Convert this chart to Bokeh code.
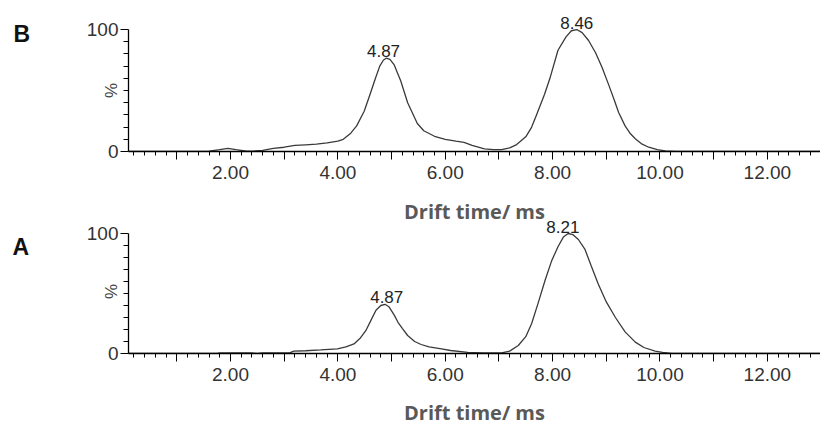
import math
from bokeh.plotting import figure
from bokeh.layouts import column, row
from bokeh.models import FixedTicker, ColumnDataSource, Range1d
from bokeh.core.properties import value
from bokeh.embed import file_html
from bokeh.resources import INLINE

# ---- data ----
b_x = [0.1, 1.0, 1.6, 1.8, 1.95, 2.1, 2.3, 2.45, 2.6, 2.8, 3.0, 3.2, 3.4, 3.6, 3.8, 4.0,
       4.1, 4.24, 4.35, 4.49, 4.6, 4.7, 4.78, 4.85, 4.9, 4.97, 5.05, 5.17, 5.3, 5.48, 5.6,
       5.8, 6.0, 6.2, 6.35, 6.5, 6.73, 6.9, 7.05, 7.2, 7.33, 7.5, 7.61, 7.7, 7.85, 7.95,
       8.1, 8.25, 8.35, 8.45, 8.55, 8.67, 8.8, 8.92, 9.05, 9.15, 9.23, 9.35, 9.45, 9.54,
       9.65, 9.79, 9.95, 10.1, 10.3, 12.99]
b_y = [0, 0, 0.3, 1.5, 2.5, 1.5, 0.3, 0.5, 1.0, 2.5, 3.5, 5.0, 5.5, 6.0, 7.0, 8.5,
       10, 15, 21, 33, 47, 60, 70, 75, 76.5, 75.5, 71, 58, 40, 23, 17,
       12.5, 10, 8.5, 7.5, 5.0, 2.2, 1.6, 1.6, 3.0, 5.7, 12, 20, 30, 47, 60,
       83, 94, 99, 100, 97.5, 91, 81, 69, 54, 42, 32, 21, 14.5, 10.4,
       6.5, 3.5, 1.5, 0.5, 0, 0]

a_x = [0.1, 1.75, 1.8, 2.4, 2.5, 2.6, 3.1, 3.18, 3.4, 3.68, 3.99, 4.15, 4.3, 4.42, 4.52,
       4.62, 4.71, 4.8, 4.88, 4.95, 5.05, 5.12, 5.2, 5.3, 5.43, 5.55, 5.7, 5.93, 6.1, 6.42,
       6.7, 7.05, 7.2, 7.36, 7.5, 7.61, 7.73, 7.86, 7.98, 8.1, 8.2, 8.29, 8.38, 8.48, 8.6,
       8.72, 8.85, 9.0, 9.17, 9.35, 9.54, 9.7, 9.91, 10.05, 10.22, 12.99]
a_y = [0, 0, 0.5, 0.5, 0, 0.5, 0.5, 1.9, 2.3, 3.0, 3.9, 5.5, 8, 13, 19,
       28, 36, 40, 41, 39, 32, 26, 21, 15, 10, 7.5, 5.5, 3.9, 2.5, 1.0,
       0.5, 0.5, 2.0, 6.7, 14, 25, 42, 61, 77, 89, 97, 100, 99, 95, 87,
       73, 58, 43, 30, 18, 9.5, 5.0, 2.0, 1.0, 0, 0]

b_peak_x = [4.85, 8.45]
b_peak_y = [76.5, 100]
b_peak_labels = ["4.87", "8.46"]

a_peak_x = [4.91, 8.19]
a_peak_y = [41, 100]
a_peak_labels = ["4.87", "8.21"]

panel_letters = ["B", "A"]
y_title = "%"

x_major = list(range(1, 13))
x_tick_labels = {t: (f"{t:.2f}" if t % 2 == 0 else "") for t in x_major}
x_minor = [round(i * 0.2, 1) for i in range(1, 65)]
y_major = [0, 100]
y_minor = list(range(10, 100, 10))

TICK_FONT = "Liberation Sans"
TOTAL_H = 429
GUTTER_W = 128   # left strip with letters and "%" (main plots overlap its right part)
AXIS_BORDER = 68


def panel(xs, ys, px, py, plabels, height, y_end, bottom, label_standoff):
    p = figure(width=820 - GUTTER_W + AXIS_BORDER, height=height, output_backend="svg",
               toolbar_location=None,
               x_range=Range1d(0.1, 12.99), y_range=Range1d(0, y_end),
               min_border_left=AXIS_BORDER, min_border_right=0, min_border_top=0,
               min_border_bottom=bottom)
    p.outline_line_color = None
    p.xgrid.visible = False
    p.ygrid.visible = False
    p.background_fill_color = None
    p.border_fill_color = None

    p.line(xs, ys, line_color="#3a3a3a", line_width=1.3)
    src = ColumnDataSource(dict(x=px, y=py, t=plabels))
    p.text(x="x", y="y", text="t", source=src, text_align="center",
           text_baseline="bottom", y_offset=-1, text_font=value(TICK_FONT),
           text_font_size="17px", text_color="#222222")

    xa = p.xaxis[0]
    xa.ticker = FixedTicker(ticks=x_major, minor_ticks=x_minor)
    xa.major_label_overrides = x_tick_labels
    xa.major_tick_out = 8
    xa.major_tick_in = 0
    xa.minor_tick_out = 4
    xa.minor_tick_in = 0
    xa.axis_line_width = 1.3
    xa.major_label_standoff = 6
    xa.major_label_text_font = TICK_FONT
    xa.major_label_text_font_size = "19px"
    xa.major_label_text_color = "#333333"
    xa.axis_label = "Drift time/ ms"
    xa.axis_label_text_font = "Open Sans"
    xa.axis_label_text_font_style = "bold"
    xa.axis_label_text_font_size = "20px"
    xa.axis_label_text_color = "#595959"
    xa.axis_label_standoff = label_standoff

    ya = p.yaxis[0]
    ya.bounds = (0, 100)
    ya.ticker = FixedTicker(ticks=y_major, minor_ticks=y_minor)
    ya.major_tick_out = 8
    ya.major_tick_in = 0
    ya.minor_tick_out = 5
    ya.minor_tick_in = 0
    ya.axis_line_width = 1.3
    ya.major_label_standoff = 2
    ya.major_label_text_font = TICK_FONT
    ya.major_label_text_font_size = "19px"
    ya.major_label_text_color = "#333333"
    return p


pB = panel(b_x, b_y, b_peak_x, b_peak_y, b_peak_labels, 232, 123.8, 81, 16)
pA = panel(a_x, a_y, a_peak_x, a_peak_y, a_peak_labels, 217, 117.5, 76, 15)
pA.margin = (-20, 0, 0, 0)

# left strip: panel letters and the rotated "%" titles (pixel coordinates)
g = figure(width=GUTTER_W, height=TOTAL_H, output_backend="svg", toolbar_location=None,
           x_range=Range1d(0, GUTTER_W), y_range=Range1d(TOTAL_H, 0),
           min_border=0)
g.axis.visible = False
g.grid.visible = False
g.outline_line_color = None
g.background_fill_color = None
g.border_fill_color = None
g.text(x=[13, 12], y=[33, 246], text=panel_letters, text_align="left",
       text_baseline="alphabetic", text_font=value("Liberation Sans"),
       text_font_style="bold", text_font_size="23px", text_color="#111111")
g.text(x=[111, 111], y=[90, 291], text=[y_title, y_title], angle=math.pi / 2,
       text_align="center", text_baseline="middle", text_font=value(TICK_FONT),
       text_font_size="17px", text_color="#444444")

plots = column(pB, pA, spacing=0)
plots.margin = (0, 0, 0, -AXIS_BORDER)
layout = row(g, plots, spacing=0)
open("out.html", "w").write(file_html(layout, INLINE))
